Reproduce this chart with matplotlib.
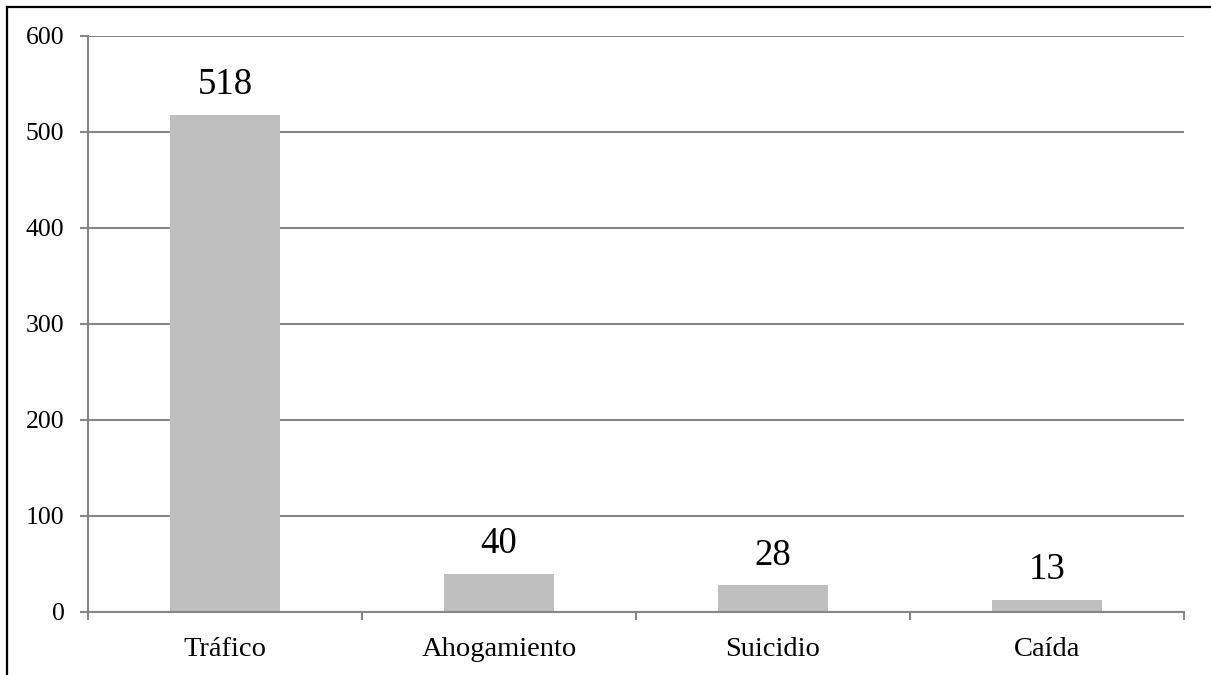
import numpy as np
import matplotlib.pyplot as plt
from matplotlib.lines import Line2D

categories = ['Tráfico', 'Ahogamiento', 'Suicidio', 'Caída']
values = [518, 40, 28, 13]

plt.rcParams['font.family'] = ['Liberation Serif', 'DejaVu Serif']

fig = plt.figure(figsize=(12.11, 6.75), dpi=100)
ax = fig.add_axes([88 / 1211, 1 - 612 / 675, (1184 - 88) / 1211, (612 - 36) / 675])

x = np.arange(len(categories))
bars = ax.bar(x, values, width=0.4, color='#bfbfbf', zorder=3)

for b, v in zip(bars, values):
    ax.annotate(str(v), (b.get_x() + b.get_width() / 2, v), xytext=(0, 9),
                textcoords='offset points', ha='center', va='bottom', fontsize=26.5)

ax.set_xlim(-0.5, len(categories) - 0.5)
ax.set_ylim(0, 600)
ax.set_yticks(np.arange(0, 601, 100))
ax.grid(axis='y', color='#868686', linewidth=1.5, zorder=0)

ax.set_xticks(x)
ax.set_xticklabels(categories, fontsize=20.5)
ax.set_xticks(np.arange(-0.5, len(categories), 1), minor=True)
ax.tick_params(axis='x', which='major', length=0, pad=18)
ax.tick_params(axis='x', which='minor', length=6, width=1.5, color='#868686', direction='out')
ax.tick_params(axis='y', length=6, width=1.5, color='#868686', labelsize=18.5, pad=11)

for s in ['top', 'right']:
    ax.spines[s].set_visible(False)
for s in ['left', 'bottom']:
    ax.spines[s].set_color('#868686')
    ax.spines[s].set_linewidth(1.5)
    ax.spines[s].set_zorder(4)

# outer frame lines (left and top only)
fig.add_artist(Line2D([7 / 1211, 7 / 1211], [0, 1 - 7 / 675], color='black', linewidth=1.6, transform=fig.transFigure))
fig.add_artist(Line2D([7 / 1211, 1], [1 - 7 / 675, 1 - 7 / 675], color='black', linewidth=1.6, transform=fig.transFigure))

fig.savefig('out.png', dpi=100)
